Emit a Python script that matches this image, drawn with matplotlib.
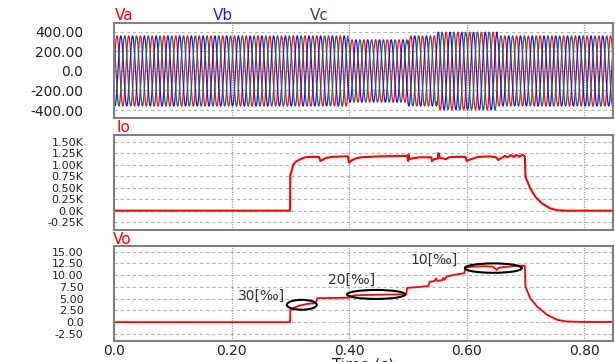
import matplotlib.pyplot as plt
from matplotlib.patches import Ellipse
import numpy as np

# --- data ---
freq = 50.0
amp_edges = [0.0, 0.398, 0.500, 0.550, 0.652, 0.849]
amp_vals = [360, 320, 360, 398, 360]   # phase voltage peak per interval

io_t = [0.0, 0.2996, 0.300, 0.302, 0.305, 0.310, 0.317, 0.325, 0.335, 0.349,
        0.351, 0.354, 0.360, 0.370, 0.390, 0.398, 0.400, 0.403, 0.410, 0.420,
        0.450, 0.490, 0.499, 0.5005, 0.501, 0.502, 0.505, 0.520, 0.540, 0.541,
        0.545, 0.551, 0.552, 0.554, 0.565, 0.570, 0.580, 0.598, 0.600, 0.605,
        0.620, 0.640, 0.650, 0.654, 0.660, 0.665, 0.670, 0.675, 0.680, 0.685,
        0.690, 0.695, 0.699, 0.700, 0.708, 0.717, 0.728, 0.742, 0.754, 0.770,
        0.849]
io_k = [0.0, 0.0, 0.78, 0.85, 1.00, 1.07, 1.12, 1.16, 1.17, 1.17,
        1.08, 1.10, 1.14, 1.17, 1.18, 1.18, 1.04, 1.08, 1.13, 1.16,
        1.18, 1.19, 1.19, 1.08, 1.22, 1.12, 1.13, 1.16, 1.16, 1.08,
        1.12, 1.13, 1.25, 1.15, 1.12, 1.16, 1.17, 1.17, 1.08, 1.11,
        1.17, 1.18, 1.16, 1.10, 1.15, 1.19, 1.16, 1.21, 1.17, 1.21,
        1.17, 1.22, 1.18, 0.74, 0.49, 0.30, 0.16, 0.05, 0.01, 0.0,
        0.0]

vo_t = [0.0, 0.2996, 0.300, 0.305, 0.315, 0.330, 0.339, 0.344, 0.346, 0.399,
        0.402, 0.410, 0.430, 0.480, 0.497, 0.499, 0.520, 0.535, 0.537, 0.545,
        0.548, 0.550, 0.558, 0.560, 0.562, 0.566, 0.580, 0.596, 0.598, 0.610,
        0.630, 0.645, 0.651, 0.655, 0.670, 0.690, 0.699, 0.700, 0.708, 0.720,
        0.737, 0.754, 0.770, 0.800, 0.849]
vo = [0.0, 0.0, 2.6, 3.0, 3.5, 3.9, 4.0, 4.3, 5.1, 5.2,
      5.5, 5.7, 5.8, 5.9, 5.9, 7.3, 7.5, 7.7, 8.6, 8.7,
      9.3, 8.8, 8.9, 9.4, 9.0, 9.7, 10.1, 10.4, 11.7, 11.8,
      11.9, 11.8, 11.1, 11.6, 11.8, 12.0, 12.0, 7.6, 5.1, 3.3,
      1.55, 0.5, 0.15, 0.05, 0.05]

x_ticks = [0.0, 0.2, 0.4, 0.6, 0.8]
x_labels = ["0.0", "0.20", "0.40", "0.60", "0.80"]
v_ticks = [400, 200, 0, -200, -400]
v_labels = ["400.00", "200.00", "0.0", "-200.00", "-400.00"]
io_ticks = [1.5, 1.25, 1.0, 0.75, 0.5, 0.25, 0.0, -0.25]
io_labels = ["1.50K", "1.25K", "1.00K", "0.75K", "0.50K", "0.25K", "0.0K", "-0.25K"]
vo_ticks = [15, 12.5, 10, 7.5, 5, 2.5, 0, -2.5]
vo_labels = ["15.00", "12.50", "10.00", "7.50", "5.00", "2.50", "0.0", "-2.50"]

# annotations: (text, x, y) and ellipses (cx, cy, w, h)
notes = [("30[‰]", 0.251, 5.7), ("20[‰]", 0.4035, 9.0), ("10[‰]", 0.5445, 13.3)]
rings = [(0.3195, 3.7, 0.051, 2.1), (0.446, 5.9, 0.099, 1.9), (0.6455, 11.5, 0.097, 2.0)]

W, H = 615, 362
fig = plt.figure(figsize=(W / 100, H / 100), dpi=100)
plt.rcParams['font.family'] = 'DejaVu Sans'


def rect(top, bottom, left=114, right=613):
    return [left / W, 1 - bottom / H, (right - left) / W, (bottom - top) / H]


def pt(x, y):
    return x / W, 1 - y / H


ax1 = fig.add_axes(rect(23, 118))
ax2 = fig.add_axes(rect(135, 230))
ax3 = fig.add_axes(rect(246, 341))

for ax, ticks, labels, lim, fs in [(ax1, v_ticks, v_labels, (-482, 492), 10),
                                   (ax2, io_ticks, io_labels, (-0.42, 1.645), 8),
                                   (ax3, vo_ticks, vo_labels, (-4.0, 16.2), 8)]:
    ax.set_xlim(0, 0.849)
    ax.set_ylim(*lim)
    ax.set_yticks(ticks)
    ax.set_yticklabels(labels)
    ax.set_xticks(x_ticks)
    ax.tick_params(length=0, pad=22, labelsize=fs, colors='#222222')
    for s in ax.spines.values():
        s.set_color('#808080')
        s.set_linewidth(1.5)
    for y in ticks:
        ax.axhline(y, color='#b4b4b4', lw=0.8, ls=(0, (3, 2.5)), zorder=0)
    for x in x_ticks[1:]:
        ax.axvline(x, color='#a0a0a0', lw=0.9, ls=(0, (1, 1)), zorder=0)

ax1.set_xticklabels([])
ax2.set_xticklabels([])
ax3.set_xticklabels(x_labels)
ax3.tick_params(axis='x', pad=2, labelsize=10)

# three phase voltages
t = np.linspace(0, 0.849, 20000)
idx = np.clip(np.searchsorted(amp_edges, t, side='right') - 1, 0, len(amp_vals) - 1)
amp = np.array(amp_vals)[idx]
va = amp * np.sin(2 * np.pi * freq * t)
vb = amp * np.sin(2 * np.pi * freq * t - 2 * np.pi / 3)
vc = amp * np.sin(2 * np.pi * freq * t + 2 * np.pi / 3)
ax1.plot(t, va, color='#ff1010', lw=0.9)
ax1.plot(t, vb, color='#1818f0', lw=0.9)
ax1.plot(t, vc, color='#2f6050', lw=0.9)

ax2.plot(io_t, io_k, color='#ff0000', lw=1.5)
ax3.plot(vo_t, vo, color='#ff0000', lw=1.3)

for cx, cy, w, h in rings:
    ax3.add_patch(Ellipse((cx, cy), w, h, fill=False, ec='black', lw=1.5, zorder=5))
for txt, x, y in notes:
    ax3.text(x, y, txt, ha='center', va='center', fontsize=10, color='#333333')

# channel titles
fig.text(*pt(115, 15), "Va", color='#ff0000', fontsize=11, va='center')
fig.text(*pt(213, 15), "Vb", color='#2020e0', fontsize=11, va='center')
fig.text(*pt(310, 15), "Vc", color='#1f5a4a', fontsize=11, va='center')
fig.text(*pt(116, 127), "Io", color='#ff0000', fontsize=11, va='center')
fig.text(*pt(113, 239), "Vo", color='#ff0000', fontsize=11, va='center')
fig.text(*pt(363, 358), "Time (s)", color='#222222', fontsize=11, ha='center', va='top')

fig.savefig("out.png", dpi=100)
